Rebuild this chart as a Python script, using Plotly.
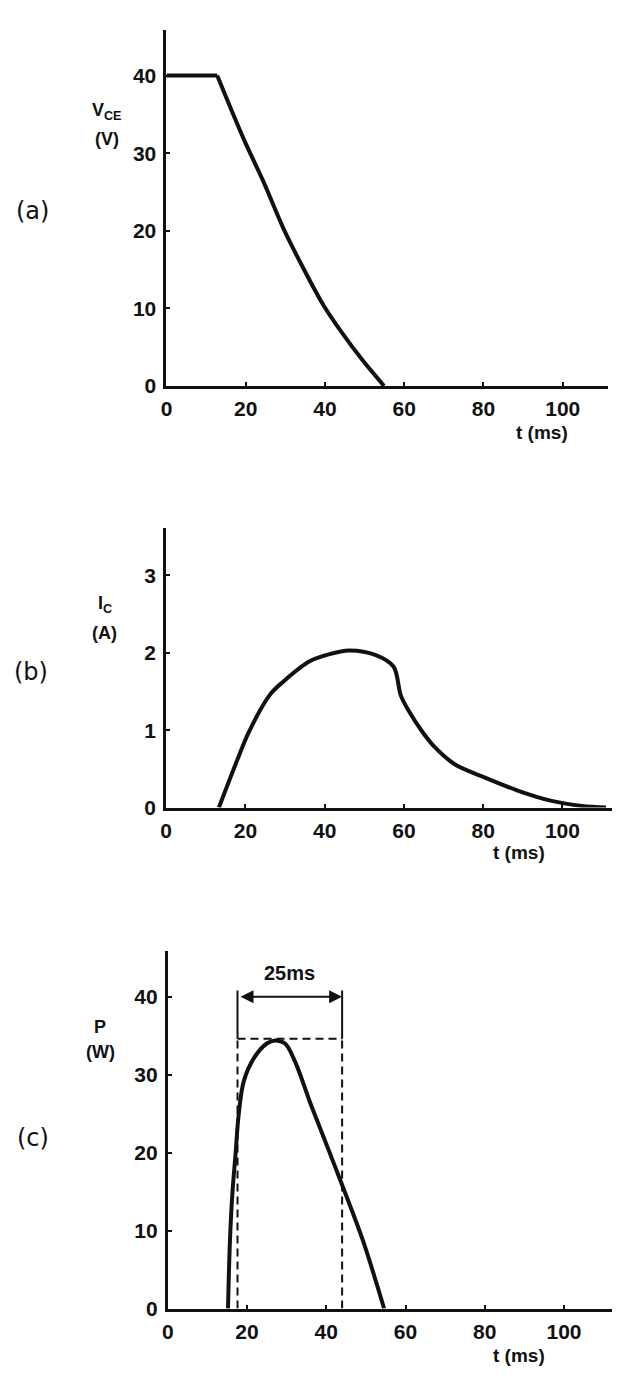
import plotly.graph_objects as go

# ---------------- data ----------------
# (a) collector-emitter voltage V_CE (V) vs t (ms)
t_vce = [0, 12.8, 19.5, 24.5, 29.5, 34.5, 39.5, 44.5, 49.5, 54.9]
vce = [40, 40, 31.8, 26.3, 20.3, 15.2, 10.5, 6.7, 3.3, 0]
vce_corner = 1  # index where the flat 40 V part ends and the fall begins

# (b) collector current I_C (A) vs t (ms)
t_ic = [13.3, 17.9, 20.8, 26.2, 29.6, 36.2, 41, 46.2, 52.9, 57.4, 59.2, 61.2, 64.5,
        67.8, 72.8, 80.3, 88.7, 97, 105, 111]
ic = [0, 0.61, 0.97, 1.46, 1.63, 1.89, 1.98, 2.03, 1.97, 1.82, 1.45, 1.25, 0.99,
      0.78, 0.56, 0.39, 0.22, 0.09, 0.02, 0]

# (c) power P (W) vs t (ms)
t_p = [15.2, 15.7, 16.3, 17.1, 17.9, 19.2, 21.7, 25, 27.1, 29.6, 32.1, 35.8, 38.4,
       44.2, 49.2, 54.6]
p = [0, 8.8, 14.7, 19.8, 24.9, 29.2, 32.1, 34.0, 34.4, 34.0, 31.7, 26.6, 23.2,
     15.6, 8.8, 0]

# 25 ms window marking in (c)
window_start = 17.6
window_end = 44.0
window_level = 34.6
arrow_level = 40.0
window_label = "25ms"

x_ticks = [0, 20, 40, 60, 80, 100]
v_ticks = [0, 10, 20, 30, 40]
i_ticks = [0, 1, 2, 3]
p_ticks = [0, 10, 20, 30, 40]

# ---------------- style ----------------
W, H = 640, 1393
INK = "#111111"
TICK_FONT = dict(family="Liberation Sans", size=21, color=INK, weight="bold")
LABEL_FONT = dict(family="Liberation Sans", size=18, color=INK, weight="bold")
PANEL_FONT = dict(family="DejaVu Sans", size=24, color=INK)


def px_x(v):
    return v / W


def px_y(v):
    return 1 - v / H


fig = go.Figure()
# flat part of V_CE
fig.add_trace(go.Scatter(x=t_vce[:vce_corner + 1], y=vce[:vce_corner + 1],
                         xaxis="x", yaxis="y", mode="lines",
                         line=dict(color=INK, width=4, shape="linear"),
                         hoverinfo="skip"))
# falling part of V_CE
fig.add_trace(go.Scatter(x=t_vce[vce_corner:], y=vce[vce_corner:],
                         xaxis="x", yaxis="y", mode="lines",
                         line=dict(color=INK, width=4, shape="spline", smoothing=0.8),
                         hoverinfo="skip"))
fig.add_trace(go.Scatter(x=t_ic, y=ic, xaxis="x2", yaxis="y2", mode="lines",
                         line=dict(color=INK, width=4, shape="spline", smoothing=0.9),
                         hoverinfo="skip"))
fig.add_trace(go.Scatter(x=t_p, y=p, xaxis="x3", yaxis="y3", mode="lines",
                         line=dict(color=INK, width=4, shape="spline", smoothing=1.0),
                         hoverinfo="skip"))

common = dict(showgrid=False, zeroline=False, showline=True, linecolor=INK,
              linewidth=3, ticks="inside", ticklen=4, tickwidth=2, tickcolor=INK,
              tickfont=TICK_FONT, fixedrange=True)

layout = dict(
    width=W, height=H, autosize=False,
    margin=dict(l=0, r=0, t=0, b=0),
    paper_bgcolor="white", plot_bgcolor="white",
    showlegend=False,
    xaxis=dict(common, domain=[px_x(162), px_x(608)], range=[0, 111.5],
               tickvals=x_ticks, anchor="y", ticklabelstandoff=2),
    yaxis=dict(common, domain=[px_y(389), px_y(30)], range=[0, 45.9],
               tickvals=v_ticks, anchor="x", ticklabelstandoff=3),
    xaxis2=dict(common, domain=[px_x(161.7), px_x(611.7)], range=[0, 112.5],
                tickvals=x_ticks, anchor="y2", ticklabelstandoff=2),
    yaxis2=dict(common, domain=[px_y(814), px_y(531.7)], range=[0, 3.62],
                tickvals=i_ticks, anchor="x2", ticklabelstandoff=3),
    xaxis3=dict(common, domain=[px_x(163.3), px_x(611.7)], range=[0, 112.1],
                tickvals=x_ticks, anchor="y3", ticklabelstandoff=2),
    yaxis3=dict(common, domain=[px_y(1319), px_y(958.3)], range=[0, 45.9],
                tickvals=p_ticks, anchor="x3", ticklabelstandoff=3),
)
fig.update_layout(**layout)

# window marking shapes in (c)
dash_line = dict(color=INK, width=2, dash="8px,5px")
solid_thin = dict(color=INK, width=2)
shapes = [
    dict(type="line", xref="x3", yref="y3", x0=window_start, x1=window_end,
         y0=window_level, y1=window_level, line=dash_line),
]
for xv in (window_start, window_end):
    shapes.append(dict(type="line", xref="x3", yref="y3", x0=xv, x1=xv,
                       y0=0, y1=window_level, line=dash_line))
    shapes.append(dict(type="line", xref="x3", yref="y3", x0=xv, x1=xv,
                       y0=window_level, y1=arrow_level + 0.8, line=solid_thin))
fig.update_layout(shapes=shapes)

ann = []
# double-headed arrow
ann.append(dict(xref="x3", yref="y3", axref="x3", ayref="y3",
                x=window_end, y=arrow_level, ax=window_start, ay=arrow_level,
                text=" ", showarrow=True, arrowside="end+start", arrowhead=2,
                arrowsize=1.3, arrowwidth=2, arrowcolor=INK))
ann.append(dict(xref="x3", yref="y3", x=(window_start + window_end) / 2, y=43.0,
                text=window_label, showarrow=False, font=dict(LABEL_FONT, size=20),
                xanchor="center", yanchor="middle"))


def txt(x, y, s, font, xanchor="center"):
    ann.append(dict(xref="paper", yref="paper", x=px_x(x), y=px_y(y), text=s,
                    showarrow=False, font=font, xanchor=xanchor, yanchor="middle"))


txt(27, 213, "(a)", PANEL_FONT)
txt(25, 677, "(b)", PANEL_FONT)
txt(27, 1147, "(c)", PANEL_FONT)

txt(102, 112, "V<sub>CE</sub>", LABEL_FONT)
txt(102, 140, "(V)", LABEL_FONT)
txt(100, 609, "I<sub>C</sub>", LABEL_FONT)
txt(99, 638, "(A)", LABEL_FONT)
txt(95, 1035, "P", LABEL_FONT)
txt(95, 1060, "(W)", LABEL_FONT)

txt(541, 436, "t (ms)", dict(LABEL_FONT, size=19))
txt(518, 859, "t (ms)", dict(LABEL_FONT, size=19))
txt(518, 1366, "t (ms)", dict(LABEL_FONT, size=19))

fig.update_layout(annotations=ann)

fig.write_html("out.html", config={"displayModeBar": False})
